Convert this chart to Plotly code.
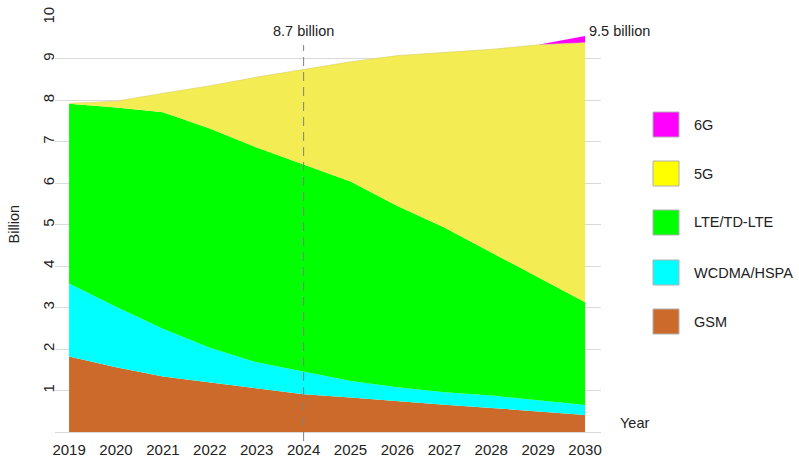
import plotly.graph_objects as go

# ---------------- data (billions of subscriptions) ----------------
years = [2019, 2020, 2021, 2022, 2023, 2024, 2025, 2026, 2027, 2028, 2029, 2030]
gsm   = [1.82, 1.56, 1.34, 1.20, 1.06, 0.91, 0.83, 0.74, 0.66, 0.58, 0.49, 0.41]
wcdma = [1.76, 1.46, 1.15, 0.83, 0.62, 0.55, 0.40, 0.34, 0.30, 0.30, 0.27, 0.24]
lte   = [4.34, 4.81, 5.22, 5.29, 5.18, 4.99, 4.81, 4.37, 3.97, 3.45, 2.97, 2.48]
g5    = [0.01, 0.15, 0.46, 1.03, 1.70, 2.29, 2.89, 3.63, 4.22, 4.90, 5.61, 6.26]
g6    = [0.00, 0.00, 0.00, 0.00, 0.00, 0.00, 0.00, 0.00, 0.00, 0.00, 0.00, 0.16]

series_names = ["GSM", "WCDMA/HSPA", "LTE/TD-LTE", "5G", "6G"]
series_vals = [gsm, wcdma, lte, g5, g6]
fill_colors = ["#CC6A2C", "#00FFFF", "#00FF00", "#F3EC52", "#FF00FF"]
legend_colors = ["#CC6A2C", "#00FFFF", "#00FF00", "#FFFF00", "#FF00FF"]

y_ticks = [1, 2, 3, 4, 5, 6, 7, 8, 9, 10]
x_ticks = years
marker_year = 2024
annot_mid = "8.7 billion"
annot_end = "9.5 billion"

FONT = "Liberation Sans, Arial, sans-serif"
TXT = "#222222"

W, H = 799, 460
L, R, T, B = 55, 198, 17, 28
PW, PH = W - L - R, H - T - B


def px_x(px):
    return (px - L) / PW


def px_y(py):
    return (H - B - py) / PH


fig = go.Figure()
for name, vals, col in zip(series_names, series_vals, fill_colors):
    fig.add_trace(go.Scatter(
        x=years, y=vals, name=name, stackgroup="one", mode="lines",
        line=dict(width=0.6 if name == "5G" else 0, color="#D8D070" if name == "5G" else col),
        fillcolor=col, showlegend=False, hoverinfo="skip",
    ))

shapes = []
# dashed marker line
shapes.append(dict(type="line", xref="x", yref="paper", x0=marker_year, x1=marker_year,
                   y0=px_y(441), y1=px_y(45), line=dict(color="#808080", width=1, dash="9px,6px"),
                   layer="above"))

annotations = [
    dict(text=annot_mid, x=marker_year, xref="x", y=px_y(31), yref="paper",
         xanchor="center", yanchor="middle", showarrow=False,
         font=dict(family=FONT, size=14.5, color=TXT)),
    dict(text=annot_end, x=years[-1], xref="x", y=px_y(31), yref="paper", xshift=2,
         xanchor="left", yanchor="middle", showarrow=False,
         font=dict(family=FONT, size=14.5, color=TXT)),
    dict(text="Year", x=px_x(618), xref="paper", y=px_y(423), yref="paper",
         xanchor="left", yanchor="middle", showarrow=False,
         font=dict(family=FONT, size=14.5, color=TXT)),
    dict(text="Billion", x=px_x(13), xref="paper", y=0.5, yref="paper", textangle=-90,
         xanchor="center", yanchor="middle", showarrow=False,
         font=dict(family=FONT, size=14.5, color=TXT)),
]

# custom legend (top to bottom: 6G, 5G, LTE, WCDMA, GSM)
leg_centers = [124.5, 173.5, 222.5, 272.5, 321.5]
for i, idx in enumerate([4, 3, 2, 1, 0]):
    yc = leg_centers[i]
    shapes.append(dict(type="rect", xref="paper", yref="paper",
                       x0=px_x(653), x1=px_x(679), y0=px_y(yc + 12.5), y1=px_y(yc - 12.5),
                       fillcolor=legend_colors[idx], line=dict(color="#B0B0B0", width=1)))
    annotations.append(dict(text=series_names[idx], x=px_x(692), xref="paper", y=px_y(yc), yref="paper",
                            xanchor="left", yanchor="middle", showarrow=False,
                            font=dict(family=FONT, size=14.5, color=TXT)))

fig.update_layout(
    width=W, height=H,
    margin=dict(l=L, r=R, t=T, b=B, pad=0, autoexpand=False),
    paper_bgcolor="white", plot_bgcolor="white",
    font=dict(family=FONT, size=15, color=TXT),
    showlegend=False,
    shapes=shapes, annotations=annotations,
    xaxis=dict(range=[2018.70, 2030.34], tickvals=x_ticks, ticktext=[str(v) for v in x_ticks],
               showgrid=False, zeroline=False, showline=False, ticks="", automargin=False,
               ticklabelstandoff=7,
               tickfont=dict(family=FONT, size=15, color=TXT), fixedrange=True),
    yaxis=dict(range=[0, 10.01], tickvals=y_ticks, ticktext=[str(v) for v in y_ticks],
               showgrid=True, gridcolor="#D9D9D9", gridwidth=1, automargin=False,
               zeroline=True, zerolinecolor="#D9D9D9", zerolinewidth=1,
               showline=False, ticks="", tickangle=-90, ticklabelstandoff=-3,
               tickfont=dict(family=FONT, size=15, color=TXT), fixedrange=True),
)

fig.write_html("out.html")
